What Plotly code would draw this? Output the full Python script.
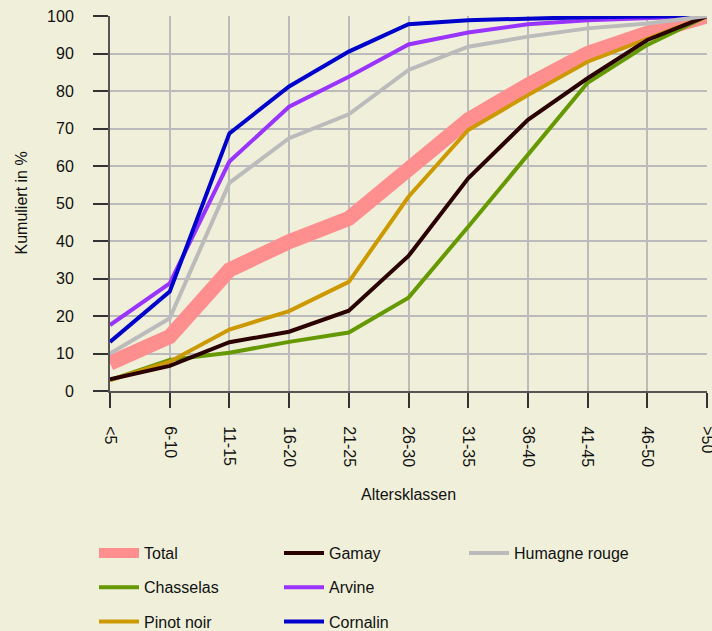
import plotly.graph_objects as go

categories = ["<5", "6-10", "11-15", "16-20", "21-25", "26-30", "31-35", "36-40", "41-45", "46-50", ">50"]

total = [7.4, 14.5, 32.3, 39.8, 46.0, 59.5, 72.3, 81.6, 90.0, 95.4, 100]
chasselas = [2.9, 8.3, 10.2, 13.1, 15.6, 24.9, 43.8, 62.9, 82.2, 92.3, 100]
pinot_noir = [2.9, 7.8, 16.4, 21.3, 29.1, 51.8, 69.6, 78.9, 87.8, 94.0, 100]
gamay = [3.1, 6.7, 13.0, 15.8, 21.4, 36.0, 56.7, 72.3, 83.4, 93.6, 100]
arvine = [17.6, 28.7, 61.2, 75.8, 83.8, 92.4, 95.6, 97.8, 98.9, 99.5, 100]
cornalin = [13.1, 26.5, 68.7, 81.2, 90.5, 97.8, 98.9, 99.4, 99.7, 99.9, 100]
humagne_rouge = [10.0, 19.4, 55.5, 67.4, 73.8, 85.6, 91.8, 94.5, 96.7, 98.0, 100]

y_ticks = [0, 10, 20, 30, 40, 50, 60, 70, 80, 90, 100]

series = [
    # name, values, color, width, legend
    ("Total", total, "#FF8F8F", 15, "legend"),
    ("Chasselas", chasselas, "#669900", 4, "legend"),
    ("Pinot noir", pinot_noir, "#CC9900", 4, "legend"),
    ("Gamay", gamay, "#2A0000", 4, "legend2"),
    ("Arvine", arvine, "#9933FF", 4, "legend2"),
    ("Cornalin", cornalin, "#0000CC", 4, "legend2"),
    ("Humagne rouge", humagne_rouge, "#BBBBBB", 4, "legend3"),
]

fig = go.Figure()
for name, vals, color, w, lg in series:
    fig.add_trace(go.Scatter(
        x=categories, y=vals, mode="lines", name=name,
        line=dict(color=color, width=w), legend=lg, legendgroup=name,
        cliponaxis=False,
    ))

bg = "#F0F0DA"
font = "Liberation Sans, Arial, sans-serif"
fs = 16

legend_common = dict(
    orientation="v", xanchor="left", yanchor="top",
    bgcolor="rgba(0,0,0,0)", font=dict(family=font, size=fs, color="#111"),
    tracegroupgap=10.5, itemwidth=40,
)

ly = (391 - 536) / 375

fig.update_layout(
    width=712, height=631,
    margin=dict(l=110, r=5, t=16, b=240, autoexpand=False),
    paper_bgcolor=bg, plot_bgcolor=bg,
    font=dict(family=font, size=fs, color="#111"),
    showlegend=True,
    legend=dict(x=(94 - 110) / 597, y=ly, **legend_common),
    legend2=dict(x=(279 - 110) / 597, y=ly, **legend_common),
    legend3=dict(x=(464 - 110) / 597, y=ly, **legend_common),
    xaxis=dict(
        type="category", categoryorder="array", categoryarray=categories,
        range=[0, 10], tickangle=90, showgrid=True, gridcolor="#BBBBBB", gridwidth=2,
        showline=True, linecolor="#555555", linewidth=2,
        ticks="outside", ticklen=15, tickwidth=2, tickcolor="#333333",
        ticklabelstandoff=15,
        tickfont=dict(size=fs), zeroline=False, automargin=False,
    ),
    yaxis=dict(
        range=[0, 100], tickvals=y_ticks, showgrid=True, gridcolor="#BBBBBB", gridwidth=2,
        showline=True, linecolor="#555555", linewidth=2,
        ticks="outside", ticklen=15, tickwidth=2, tickcolor="#333333",
        ticklabelstandoff=16,
        tickfont=dict(size=fs), zeroline=False, automargin=False,
    ),
    annotations=[
        dict(text="Altersklassen", xref="paper", yref="paper", x=0.5, y=(391 - 494) / 375,
             xanchor="center", yanchor="middle", showarrow=False, font=dict(size=fs)),
        dict(text="Kumuliert in %", xref="paper", yref="paper", x=(21 - 110) / 597, y=0.5,
             xanchor="center", yanchor="middle", textangle=-90, showarrow=False, font=dict(size=fs)),
    ],
)

fig.write_html(
    "out.html",
    config={"displayModeBar": False},
    post_script="document.body.style.margin='0';document.body.style.background='" + bg + "';",
)
